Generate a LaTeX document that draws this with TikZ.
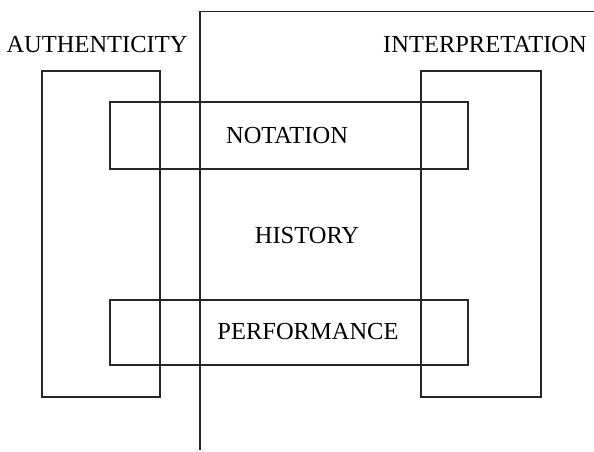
\documentclass[tikz,border=0pt]{standalone}
\usepackage{fontspec}
\setmainfont{Liberation Serif}
\usetikzlibrary{positioning}
\begin{document}
\begin{tikzpicture}[x=1pt,y=-1pt, box/.style={draw=black!85,line width=1.2pt}, lbl/.style={font=\fontsize{24.5}{28}\selectfont,inner sep=0pt}]
                      \useasboundingbox (0,0) rectangle (594,451);
                      \draw[box] (200,450) -- (200,11.5) -- (594,11.5);
                      \draw[box] (42,71) rectangle (160,397);
                      \draw[box] (421,71) rectangle (541,397);
                      \draw[box] (110,102) rectangle (468,169);
                      \draw[box] (110,300) rectangle (468,365);
                      \node[lbl] (auth) at (97,45) {AUTHENTICITY};
                      \node[lbl] (interp) at (485,45) {INTERPRETATION};
                      \node[lbl] (notation) at (287,136) {NOTATION};
                      \node[lbl] (history) at (307,236) {HISTORY};
                      \node[lbl] (perf) at (308,331) {PERFORMANCE};
                    \end{tikzpicture}
\end{document}
